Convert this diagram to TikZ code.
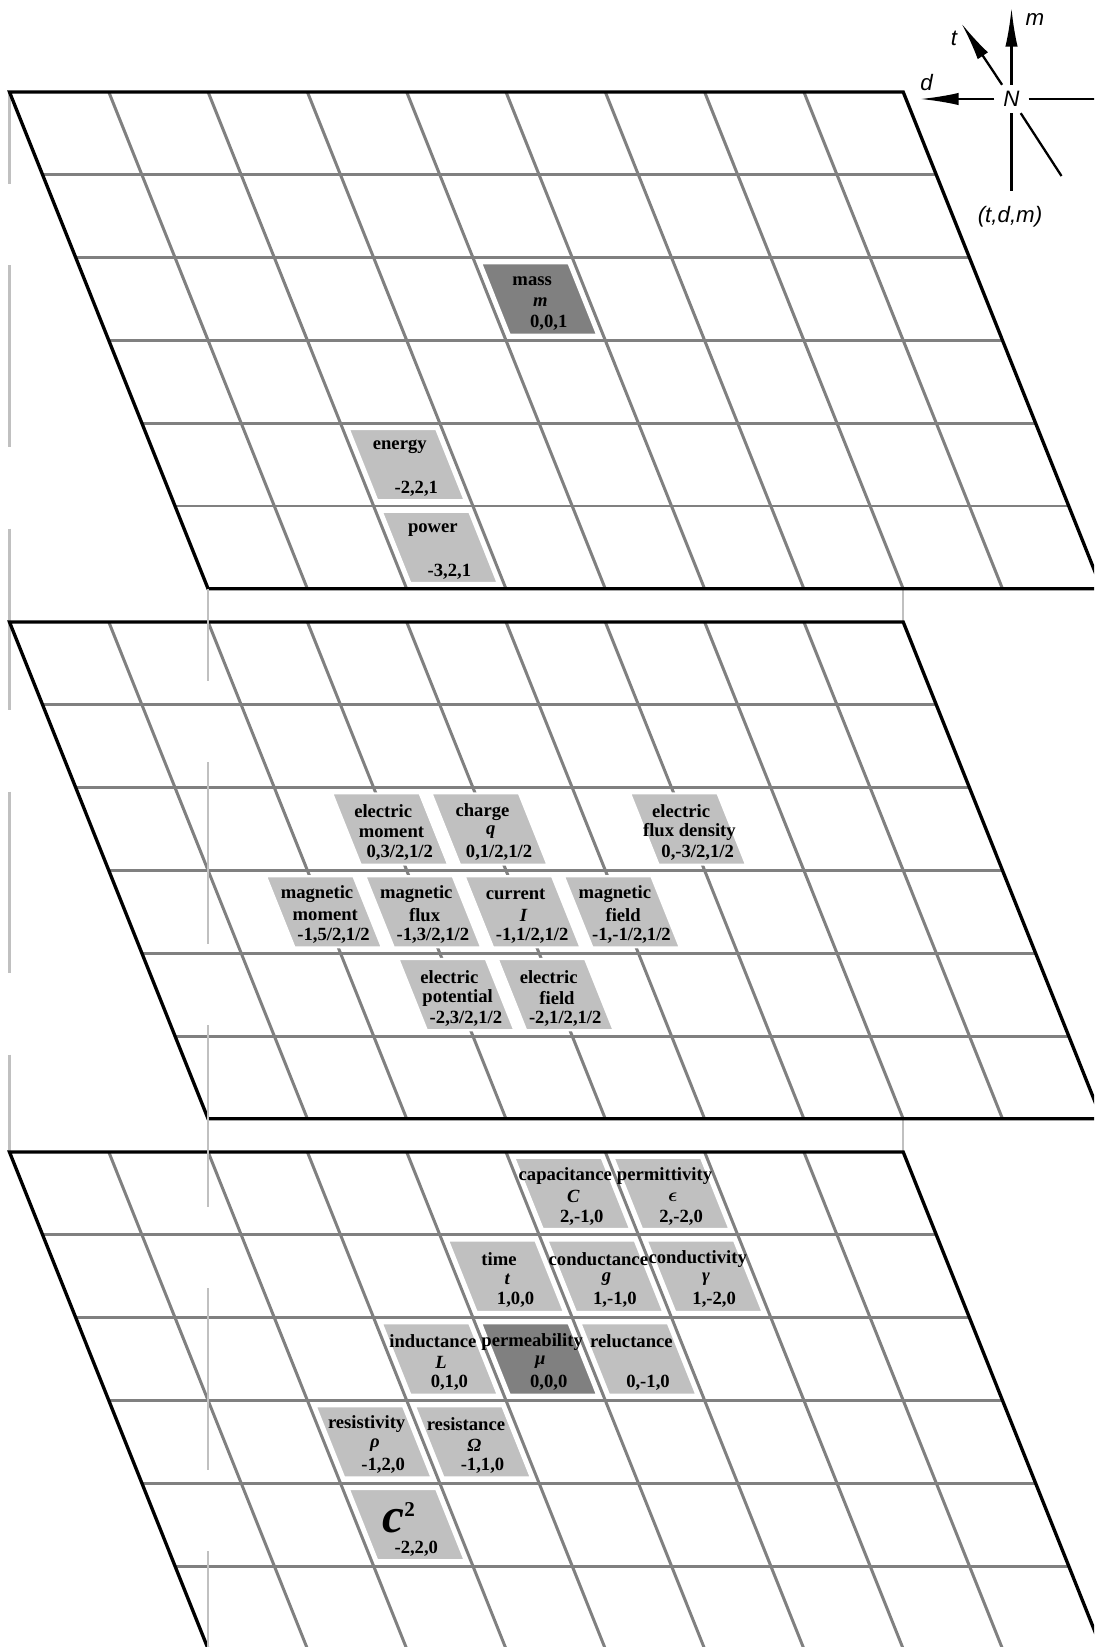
\documentclass[tikz,border=0pt]{standalone}
\usepackage{fontspec}
\setmainfont{Liberation Serif}
\newfontfamily\compassfont{Liberation Sans}
\usetikzlibrary{arrows.meta,backgrounds}

\definecolor{gridgray}{RGB}{128,128,128}
\definecolor{cellgray}{RGB}{192,192,192}
\definecolor{hidden}{RGB}{192,192,192}

\tikzset{
  plane/.style={x={(1.986cm,0)}, y={(0.662cm,-1.656cm)}},
  gridline/.style={draw=gridgray, line width=1.7pt},
  rim/.style={draw=black, line width=1.9pt},
  qty/.style={fill=cellgray, draw=white, line width=1.2pt},
  base/.style={fill=gridgray, draw=white, line width=1.2pt},
  lbl/.style={font=\fontsize{10.6}{12}\selectfont\bfseries, inner sep=0pt},
  axis/.style={line width=1.3pt},
  axisarrow/.style={axis, -{Latex[length=22pt,width=7pt]}},
  axislbl/.style={font=\compassfont\itshape\fontsize{12.7}{14}\selectfont, inner sep=0pt},
  backline/.style={draw=hidden, line width=1.4pt},
  dimline/.style={backline, dash pattern=on 103.2pt off 46.5pt, dash phase=51pt}
}

% quantity cell: name, column, row, style, three lines of text
\newcommand{\qcell}[7]{%
  \draw[#4] (#2+0.06,#3+0.07) -- (#2+0.94,#3+0.07) -- (#2+0.94,#3+0.93) -- (#2+0.06,#3+0.93) -- cycle;
  \node[lbl] (#1-a) at (#2+0.5,#3+0.29) {#5};
  \node[lbl] (#1-b) at (#2+0.5,#3+0.54) {#6};
  \node[lbl] (#1-c) at (#2+0.5,#3+0.79) {#7};
}

% empty layer grid, 9 x 6
\newcommand{\layer}{%
  \fill[white] (0,0) -- (9,0) -- (9,6) -- (0,6) -- cycle;
  \foreach \i in {1,...,8} \draw[gridline] (\i,0) -- (\i,6);
  \foreach \j in {1,...,5} \draw[gridline] (0,\j) -- (9,\j);
  \draw[rim] (0,0) -- (9,0) -- (9,6) -- (0,6) -- cycle;
}

\begin{document}
\begin{tikzpicture}
  \useasboundingbox (0,0) rectangle (21.88,-32.94);
  \clip (0,0) rectangle (21.88,-32.94);

  %top layer, m=1
  \begin{scope}[xshift=0.19cm, yshift=-1.84cm, plane]
    \layer
    \coordinate (top-nw) at (0,0);
    \coordinate (top-ne) at (9,0);
    \coordinate (top-sw) at (0,6);
    \qcell{mass}{4}{2}{base}{mass}{\textit{m}}{0,0,1}
    \qcell{energy}{2}{4}{qty}{energy}{}{-2,2,1}
    \qcell{power}{2}{5}{qty}{power}{}{-3,2,1}
  \end{scope}

  %middle layer, m=1/2
  \begin{scope}[xshift=0.19cm, yshift=-12.44cm, plane]
    \layer
    \qcell{emom}{2.5}{2}{qty}{electric}{moment}{0,3/2,1/2}
    \qcell{charge}{3.5}{2}{qty}{charge}{\textit{q}}{0,1/2,1/2}
    \qcell{dflux}{5.5}{2}{qty}{electric}{flux density}{0,-3/2,1/2}
    \qcell{mmom}{1.5}{3}{qty}{magnetic}{moment}{-1,5/2,1/2}
    \qcell{mflux}{2.5}{3}{qty}{magnetic}{flux}{-1,3/2,1/2}
    \qcell{current}{3.5}{3}{qty}{current}{\textit{I}}{-1,1/2,1/2}
    \qcell{hfield}{4.5}{3}{qty}{magnetic}{field}{-1,-1/2,1/2}
    \qcell{epot}{2.5}{4}{qty}{electric}{potential}{-2,3/2,1/2}
    \qcell{efield}{3.5}{4}{qty}{electric}{field}{-2,1/2,1/2}
  \end{scope}

  %bottom layer, m=0
  \begin{scope}[xshift=0.19cm, yshift=-23.04cm, plane]
    \layer
    \coordinate (low-nw) at (0,0);
    \coordinate (low-ne) at (9,0);
    \coordinate (low-sw) at (0,6);
    \qcell{cap}{5}{0}{qty}{capacitance}{\textit{C}}{2,-1,0}
    \qcell{perm}{6}{0}{qty}{permittivity}{{\boldmath$\epsilon$}}{2,-2,0}
    \qcell{time}{4}{1}{qty}{time}{\textit{t}}{1,0,0}
    \qcell{cond}{5}{1}{qty}{conductance}{\textit{g}}{1,-1,0}
    \qcell{condy}{6}{1}{qty}{conductivity}{\textit{γ}}{1,-2,0}
    \qcell{ind}{3}{2}{qty}{inductance}{\textit{L}}{0,1,0}
    \qcell{mu}{4}{2}{base}{permeability}{\textit{μ}}{0,0,0}
    \qcell{rel}{5}{2}{qty}{reluctance}{}{0,-1,0}
    \qcell{rho}{2}{3}{qty}{resistivity}{\textit{ρ}}{-1,2,0}
    \qcell{res}{3}{3}{qty}{resistance}{\textit{Ω}}{-1,1,0}
    \qcell{csq}{2}{4}{qty}{}{}{-2,2,0}
    \node[lbl] (csq-big) at (2.45,4.42) {\fontsize{28}{28}\selectfont\textit{c}\textsuperscript{\fontsize{12}{12}\selectfont 2}};
  \end{scope}

  %hidden edges
  \begin{pgfonlayer}{background}
    \draw[backline] (top-ne) -- (low-ne);
    \draw[dimline] (top-nw) -- (low-nw);
  \end{pgfonlayer}
  \draw[dimline] (top-sw) -- (low-sw);

  %compass
  \node[axislbl, inner xsep=5pt, inner ysep=3.5pt] (N) at (20.23,-1.98) {N};
  \coordinate (m-tip) at (20.23,-0.16);
  \coordinate (t-tip) at (19.23,-0.47);
  \coordinate (d-tip) at (18.40,-1.98);
  \coordinate (e-end) at (21.95,-1.98);
  \coordinate (s-end) at (20.23,-3.83);
  \coordinate (se-end) at (21.23,-3.52);
  \draw[axisarrow] (N) -- (m-tip);
  \draw[axisarrow] (N) -- (t-tip);
  \draw[axisarrow] (N) -- (d-tip);
  \draw[axis] (N) -- (e-end);
  \draw[axis] (N) -- (s-end);
  \draw[axis] (N) -- (se-end);
  \node[axislbl] (m-lbl) at (20.70,-0.40) {m};
  \node[axislbl] (t-lbl) at (19.08,-0.76) {t};
  \node[axislbl] (d-lbl) at (18.53,-1.66) {d};
  \node[axislbl] (tdm) at (20.20,-4.33) {(t,d,m)};
\end{tikzpicture}
\end{document}
